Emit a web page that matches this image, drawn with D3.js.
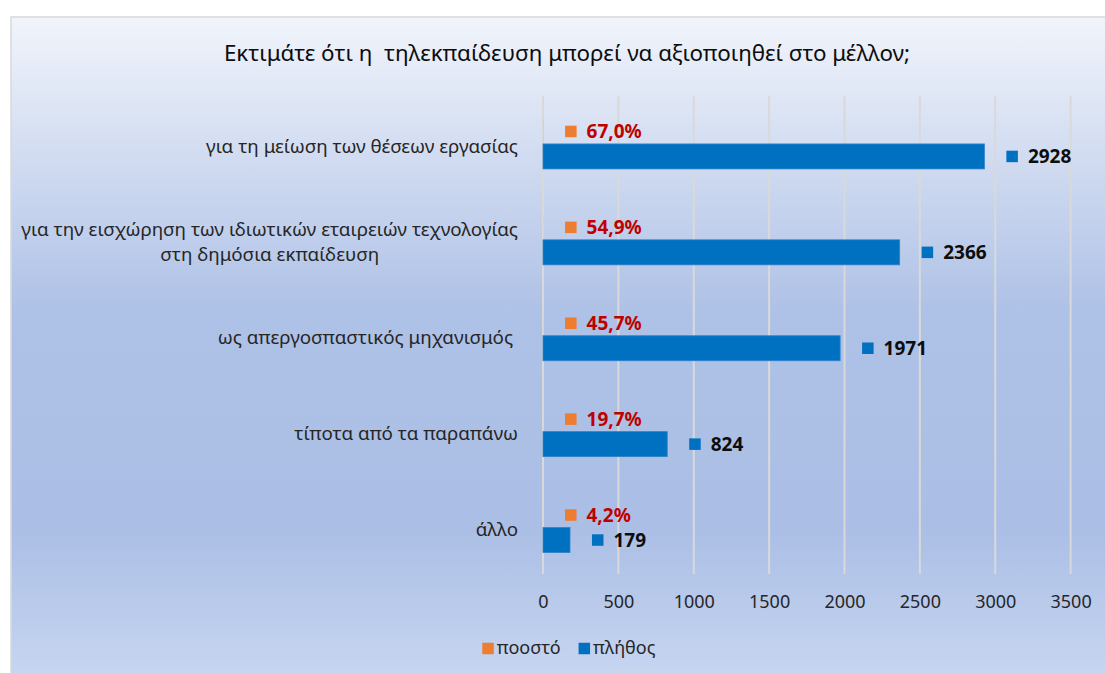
<!DOCTYPE html>
<html>
<head>
<meta charset="utf-8">
<script src="https://cdn.jsdelivr.net/npm/d3@7/dist/d3.min.js"></script>
<style>
    html, body { margin: 0; padding: 0; background: #fff; }
    svg { display: block; font-family: "Noto Sans", "Open Sans", sans-serif; }
</style>
</head>
<body>
<svg id="chart" width="1105" height="673"></svg>
<script>
"use strict";

var title = "Εκτιμάτε ότι η  τηλεκπαίδευση μπορεί να αξιοποιηθεί στο μέλλον;";
var categories = [
    "για τη μείωση των θέσεων εργασίας",
    "για την εισχώρηση των ιδιωτικών εταιρειών τεχνολογίας\nστη δημόσια εκπαίδευση",
    "ως απεργοσπαστικός μηχανισμός ",
    "τίποτα από τα παραπάνω",
    "άλλο"
];
var seriesNames = ["ποοστό", "πλήθος"];
var percentValues = [67.0, 54.9, 45.7, 19.7, 4.2];
var countValues = [2928, 2366, 1971, 824, 179];
var tickValues = [0, 500, 1000, 1500, 2000, 2500, 3000, 3500];

var colors = { "ποοστό": "#ed7d31", "πλήθος": "#0070c0" };
var labelColors = { "ποοστό": "#c00000", "πλήθος": "#0d0d0d" };

var svg = d3.select("#chart");
var frame = { x: 11, y: 17, width: 1120, height: 680 };
var plot = { left: 543, right: 1070.6, top: 96, bottom: 575.5 };
var markerSize = 11.5;
var markerGap = 22;
var labelGap = 10;

// background
var defs = svg.append("defs");
var gradient = defs.append("linearGradient")
    .attr("id", "bgGradient")
    .attr("gradientUnits", "userSpaceOnUse")
    .attr("x1", 0).attr("y1", frame.y)
    .attr("x2", 0).attr("y2", 673);
[["0%", "#f1f4fb"], ["45%", "#aec1e6"], ["78%", "#abbee5"], ["100%", "#c6d5f0"]].forEach(function (s) {
    gradient.append("stop").attr("offset", s[0]).attr("stop-color", s[1]);
});

svg.append("rect")
    .attr("x", frame.x)
    .attr("y", frame.y)
    .attr("width", frame.width)
    .attr("height", frame.height)
    .attr("fill", "url(#bgGradient)")
    .attr("stroke", "#d9d9d9")
    .attr("stroke-width", 1.5);

svg.append("text")
    .attr("x", 567)
    .attr("y", 61)
    .attr("text-anchor", "middle")
    .attr("font-size", 22.4)
    .attr("fill", "#0d0d0d")
    .style("white-space", "pre")
    .text(title);

// scales
var x = d3.scaleLinear().domain([0, 3500]).range([plot.left, plot.right]);
var y = d3.scaleBand().domain(categories).range([plot.top, plot.bottom]).paddingInner(0.479).paddingOuter(0.2395);
var ySeries = d3.scaleBand().domain(seriesNames).range([0, y.bandwidth()]);
var bandCenter = function (c) {
    return y(c) - y.step() * y.paddingInner() / 2 + y.step() / 2;
};

// gridlines
svg.append("g")
    .attr("class", "grid")
    .selectAll("line")
    .data(tickValues)
    .enter()
    .append("line")
    .attr("x1", function (d) { return x(d); })
    .attr("x2", function (d) { return x(d); })
    .attr("y1", plot.top)
    .attr("y2", 574)
    .attr("stroke", "#d9d9d9")
    .attr("stroke-width", 2);

// x axis labels
var xAxis = svg.append("g")
    .attr("transform", "translate(0,574)")
    .call(d3.axisBottom(x).tickValues(tickValues).tickSize(0).tickPadding(21).tickFormat(d3.format("d")));
xAxis.select(".domain").remove();
xAxis.selectAll("text")
    .attr("font-family", "\"Noto Sans\", sans-serif")
    .attr("font-size", 18)
    .attr("fill", "#262626");

// category labels
var catLabels = svg.append("g").attr("class", "categories")
    .selectAll("text")
    .data(categories)
    .enter()
    .append("text")
    .attr("font-size", 18.8)
    .attr("fill", "#262626")
    .style("white-space", "pre")
    .each(function (c) {
        var lines = c.split("\n");
        var lineHeight = 25;
        var node = d3.select(this);
        var cy = bandCenter(c) + 2 - (lines.length - 1) * lineHeight / 2;
        node.attr("text-anchor", lines.length > 1 ? "middle" : "end");
        lines.forEach(function (l, i) {
            node.append("tspan")
                .attr("y", cy + i * lineHeight)
                .attr("dy", "0.35em")
                .text(l);
        });
    });
catLabels.each(function (c) {
    var node = d3.select(this);
    var rightEdge = 518;
    if (c.indexOf("\n") >= 0) {
        var w = d3.max(node.selectAll("tspan").nodes(), function (t) { return t.getComputedTextLength(); });
        node.selectAll("tspan").attr("x", rightEdge - w / 2);
    } else {
        node.selectAll("tspan").attr("x", rightEdge);
    }
});

// bars
var rows = categories.map(function (c, i) {
    return [
        { series: "ποοστό", category: c, value: percentValues[i] / 100, label: d3.format(".1f")(percentValues[i]).replace(".", ",") + "%" },
        { series: "πλήθος", category: c, value: countValues[i], label: String(countValues[i]) }
    ];
});

var groups = svg.append("g").attr("class", "bars")
    .selectAll("g")
    .data(rows)
    .enter()
    .append("g")
    .attr("transform", function (d) { return "translate(0," + y(d[0].category) + ")"; });

groups.selectAll("rect")
    .data(function (d) { return d; })
    .enter()
    .append("rect")
    .attr("x", x(0))
    .attr("y", function (d) { return ySeries(d.series); })
    .attr("width", function (d) { return x(d.value) - x(0); })
    .attr("height", ySeries.bandwidth())
    .attr("fill", function (d) { return colors[d.series]; })
    .attr("stroke", function (d) { return d.series === "πλήθος" ? "#2e80c8" : "none"; })
    .attr("stroke-width", 0.8);

// data labels with legend keys
var labels = groups.selectAll("g.data-label")
    .data(function (d) { return d; })
    .enter()
    .append("g")
    .attr("class", "data-label")
    .attr("transform", function (d) {
        return "translate(" + (x(d.value) + markerGap) + "," + (ySeries(d.series) + ySeries.bandwidth() / 2) + ")";
    });

labels.append("rect")
    .attr("x", 0)
    .attr("y", -markerSize / 2)
    .attr("width", markerSize)
    .attr("height", markerSize)
    .attr("fill", function (d) { return colors[d.series]; });

labels.append("text")
    .attr("x", markerSize + labelGap)
    .attr("dy", "0.36em")
    .attr("font-size", 19)
    .attr("font-weight", "bold")
    .attr("fill", function (d) { return labelColors[d.series]; })
    .text(function (d) { return d.label; });

// legend
var legend = svg.append("g").attr("class", "legend");
var legendX = 0;
var legendItems = legend.selectAll("g")
    .data(seriesNames)
    .enter()
    .append("g");
legendItems.append("rect")
    .attr("y", -markerSize / 2)
    .attr("width", markerSize)
    .attr("height", markerSize)
    .attr("fill", function (d) { return colors[d]; });
legendItems.append("text")
    .attr("x", markerSize + 3)
    .attr("dy", "0.33em")
    .attr("font-size", 18)
    .attr("fill", "#262626")
    .text(function (d) { return d; });
legendItems.each(function () {
    var g = d3.select(this);
    g.attr("transform", "translate(" + legendX + ",0)");
    legendX += g.node().getBBox().width + 18;
});
var legendWidth = legendX - 18;
legend.attr("transform", "translate(" + (569 - legendWidth / 2) + ",648.5)");
</script>
</body>
</html>
